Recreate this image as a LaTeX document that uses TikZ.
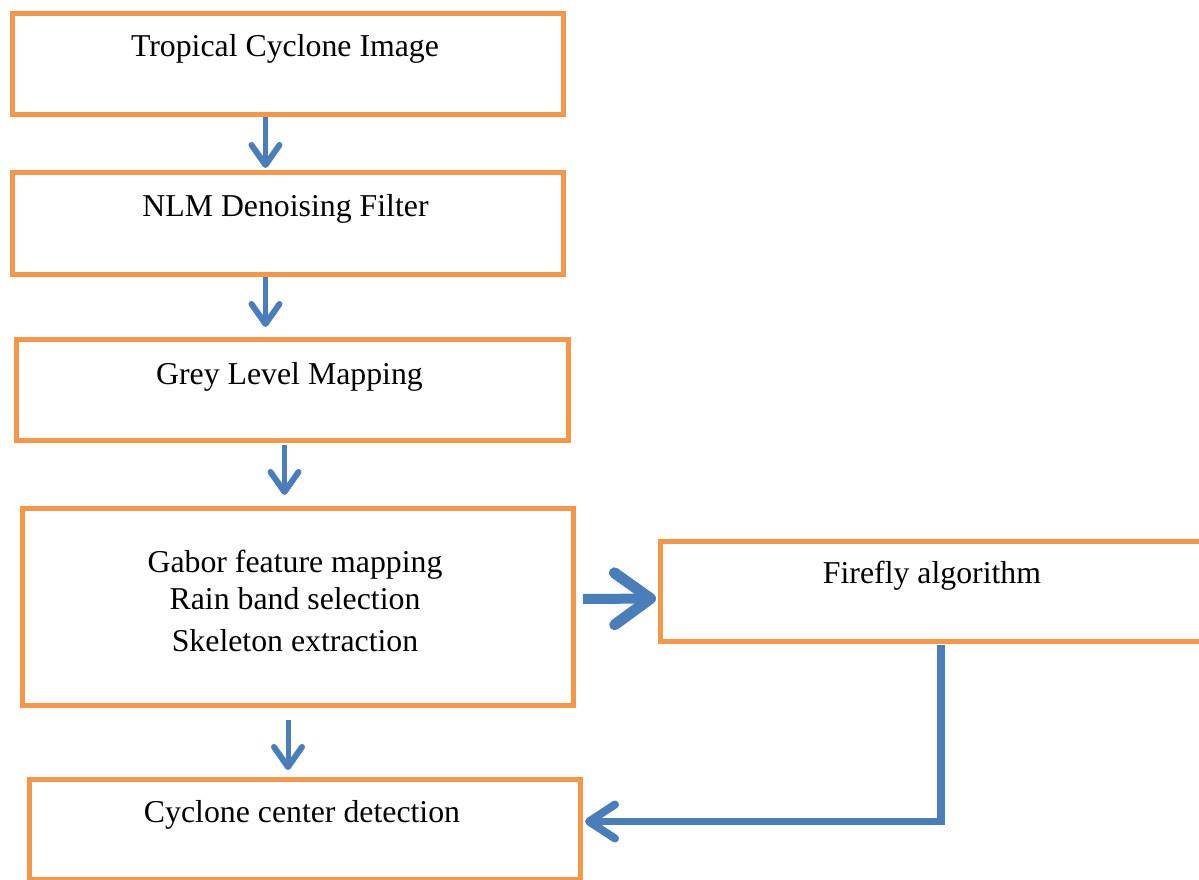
\documentclass[tikz,border=0pt]{standalone}
\usepackage{fontspec}
\setmainfont{Liberation Serif}
\usetikzlibrary{arrows.meta,calc}
\definecolor{boxorange}{HTML}{F79646}
\definecolor{arrowblue}{HTML}{4A7EBB}
\begin{document}
\begin{tikzpicture}[x=1pt,y=-1pt,
  box/.style={draw=boxorange, line width=5pt, rectangle, anchor=north west, inner sep=0pt, fill=white},
  txt/.style={anchor=base, inner sep=0pt, font=\fontsize{31.8}{38}\selectfont},
  thinarrow/.style={draw=arrowblue, line width=5pt, -{Straight Barb[round,length=20pt,width=28pt,line width=6pt]}},
  thickarrow/.style={draw=arrowblue, line width=10pt, -{Straight Barb[round,length=36pt,width=52pt,line width=11pt]}},
  backarrow/.style={draw=arrowblue, line width=7.5pt, -{Straight Barb[round,length=26pt,width=34pt,line width=8pt]}}
]
\clip (0,0) rectangle (1199,880);
\fill[white] (0,0) rectangle (1199,880);

\node[box, minimum width=551pt, minimum height=101pt] (b1) at (10,11) {};
\node[box, minimum width=551pt, minimum height=102pt] (b2) at (10,170) {};
\node[box, minimum width=552pt, minimum height=101pt] (b3) at (14,337) {};
\node[box, minimum width=551pt, minimum height=197pt] (b4) at (20,506) {};
\node[box, minimum width=551pt, minimum height=100pt] (b5) at (27,777) {};
\node[box, minimum width=548pt, minimum height=100pt] (b6) at (658,539) {};

\node[txt] (t1) at (285,57) {Tropical Cyclone Image};
\node[txt] (t2) at (285.5,216) {NLM Denoising Filter};
\node[txt] (t3) at (289.5,384) {Grey Level Mapping};
\node[txt] (t4a) at (295,572) {Gabor feature mapping};
\node[txt] (t4b) at (295,609) {Rain band selection};
\node[txt] (t4c) at (295,651) {Skeleton extraction};
\node[txt] (t5) at (302,822) {Cyclone center detection};
\node[txt] (t6) at (932,583) {Firefly algorithm};

\draw[thinarrow] ([xshift=255.5pt]b1.south west) -- ([xshift=255.5pt,yshift=2pt]b2.north west);
\draw[thinarrow] ([xshift=255.5pt]b2.south west) -- ([xshift=251.5pt,yshift=10pt]b3.north west);
\draw[thinarrow] ([xshift=270.5pt,yshift=-2pt]b3.south west) -- ([xshift=264.5pt,yshift=11pt]b4.north west);
\draw[thinarrow] ([xshift=268pt,yshift=-12pt]b4.south west) -- ([xshift=261pt,yshift=7pt]b5.north west);

\draw[thickarrow] ([shift={(7pt,8pt)}]b4.east) -- ([shift={(-2pt,-7pt)}]b6.west);
\draw[backarrow] ([xshift=283pt,yshift=-1pt]b6.south west) |- ([shift={(2pt,8pt)}]b5.east);
\end{tikzpicture}
\end{document}
